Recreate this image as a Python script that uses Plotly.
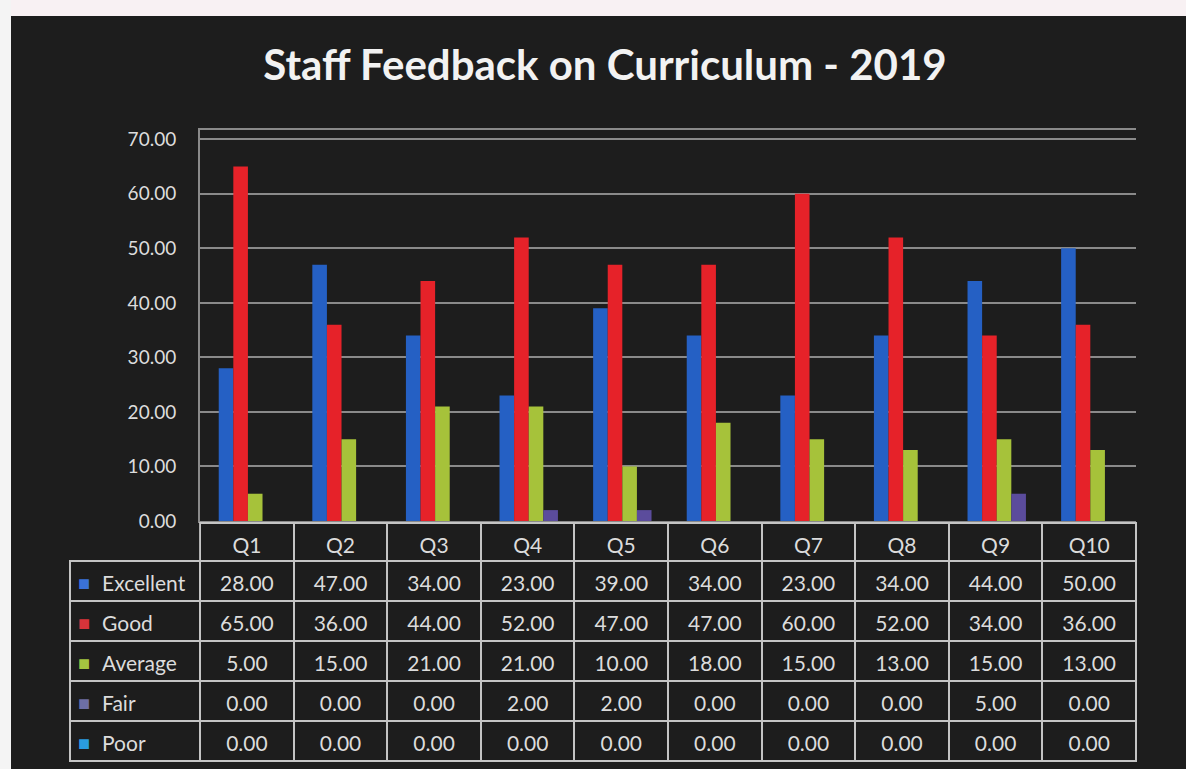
import plotly.graph_objects as go

questions = ["Q1", "Q2", "Q3", "Q4", "Q5", "Q6", "Q7", "Q8", "Q9", "Q10"]
excellent = [28, 47, 34, 23, 39, 34, 23, 34, 44, 50]
good = [65, 36, 44, 52, 47, 47, 60, 52, 34, 36]
average = [5, 15, 21, 21, 10, 18, 15, 13, 15, 13]
fair = [0, 0, 0, 2, 2, 0, 0, 0, 5, 0]
poor = [0, 0, 0, 0, 0, 0, 0, 0, 0, 0]

series = [
    ("Excellent", excellent, "#2560c4", "#3a72d6"),
    ("Good", good, "#e62229", "#d8343a"),
    ("Average", average, "#a6c23a", "#a6c440"),
    ("Fair", fair, "#5b4c9c", "#6e6ea4"),
    ("Poor", poor, "#1c9ad8", "#2a9ede"),
]

W, H = 1186, 769
BG = "#1d1d1d"
GRID = "#8a8a8a"
LINE = "#c4c4c4"
TXT = "#dcdcdc"
NONE = "rgba(0,0,0,0)"
FONT = "Lato"
FS = 21


def px_x(x):
    return x / W


def px_y(y):
    return 1 - y / H


fig = go.Figure()

# bars
for name, vals, col, _ in series:
    fig.add_trace(go.Bar(
        x=questions, y=vals, name=name, marker_color=col,
        marker_line_width=0, showlegend=False))

# --- data table: one table draws the grid, a second one (nudged down a bit)
# --- carries the text so it sits in the middle of the rows
n = len(questions)
fig.add_trace(go.Table(
    domain=dict(x=[px_x(70), px_x(1136)], y=[0, px_y(523)]),
    columnwidth=[130] + [93.5] * n,
    header=dict(values=[""] * (n + 1), height=38,
                fill_color=[NONE] + [BG] * n,
                line=dict(color=[NONE] + [LINE] * n, width=2)),
    cells=dict(values=[[""] * len(series)] * (n + 1), height=40, fill_color=BG,
               line=dict(color=LINE, width=2)),
))

squares = ["■"] * len(series)
labels = [name for name, _, _, _ in series]
text_cols = [squares, labels]
for i in range(n):
    text_cols.append([f"{s[1][i]:.2f}" for s in series])

fig.add_trace(go.Table(
    domain=dict(x=[px_x(70), px_x(1136)], y=[0, px_y(529)]),
    columnwidth=[24, 106] + [93.5] * n,
    header=dict(
        values=["", ""] + questions,
        height=38, fill_color=NONE,
        line=dict(color=NONE, width=0),
        font=dict(family=FONT, size=FS, color=TXT),
        align="center",
    ),
    cells=dict(
        values=text_cols,
        height=40, fill_color=NONE,
        line=dict(color=NONE, width=0),
        font=dict(family=FONT, size=[20, FS] + [FS] * n,
                  color=[[s[3] for s in series], TXT] + [TXT] * n),
        align=["left", "left"] + ["center"] * n,
    ),
))

fig.update_layout(
    width=W, height=H,
    margin=dict(l=0, r=0, t=0, b=0, pad=0),
    paper_bgcolor=BG,
    plot_bgcolor=BG,
    barmode="group",
    bargap=0.22,
    bargroupgap=0,
    font=dict(family=FONT, color=TXT),
    title=dict(
        text="<b>Staff Feedback on Curriculum - 2019</b>",
        x=px_x(605), y=px_y(65), xanchor="center", yanchor="middle",
        font=dict(family=FONT, size=42, color="#f2f2f2"),
        automargin=False,
    ),
    xaxis=dict(
        domain=[px_x(200), px_x(1136)],
        # bars in the scan sit a little right of the column centres
        range=[-0.59, 9.41],
        showticklabels=False,
        showgrid=False,
        showline=True, mirror=True, linecolor=GRID, linewidth=2,
        zeroline=False,
        automargin=False,
    ),
    yaxis=dict(
        domain=[px_y(521), px_y(130)],
        range=[0, 71.7],
        dtick=10,
        tickformat=".2f",
        tickfont=dict(family=FONT, size=19, color=TXT),
        ticklabelstandoff=18,
        gridcolor=GRID, gridwidth=2,
        showline=True, linecolor=GRID, linewidth=2,
        zeroline=False,
        automargin=False,
    ),
)

# light scan border along the top and left edge
fig.add_shape(type="rect", xref="paper", yref="paper",
              x0=0, x1=1, y0=px_y(16), y1=1,
              fillcolor="#f8f1f3", line_width=0, layer="above")
fig.add_shape(type="rect", xref="paper", yref="paper",
              x0=0, x1=px_x(11), y0=0, y1=1,
              fillcolor="#f4f4f4", line_width=0, layer="above")

fig.write_html(
    "out.html",
    config={"displayModeBar": False},
    post_script=(
        "document.body.style.margin='0';"
        "document.body.style.overflow='hidden';"
        "document.querySelectorAll('.scrollbar-capture-zone,.scrollbar-kit')"
        ".forEach(function(e){e.remove();});"
    ),
)
